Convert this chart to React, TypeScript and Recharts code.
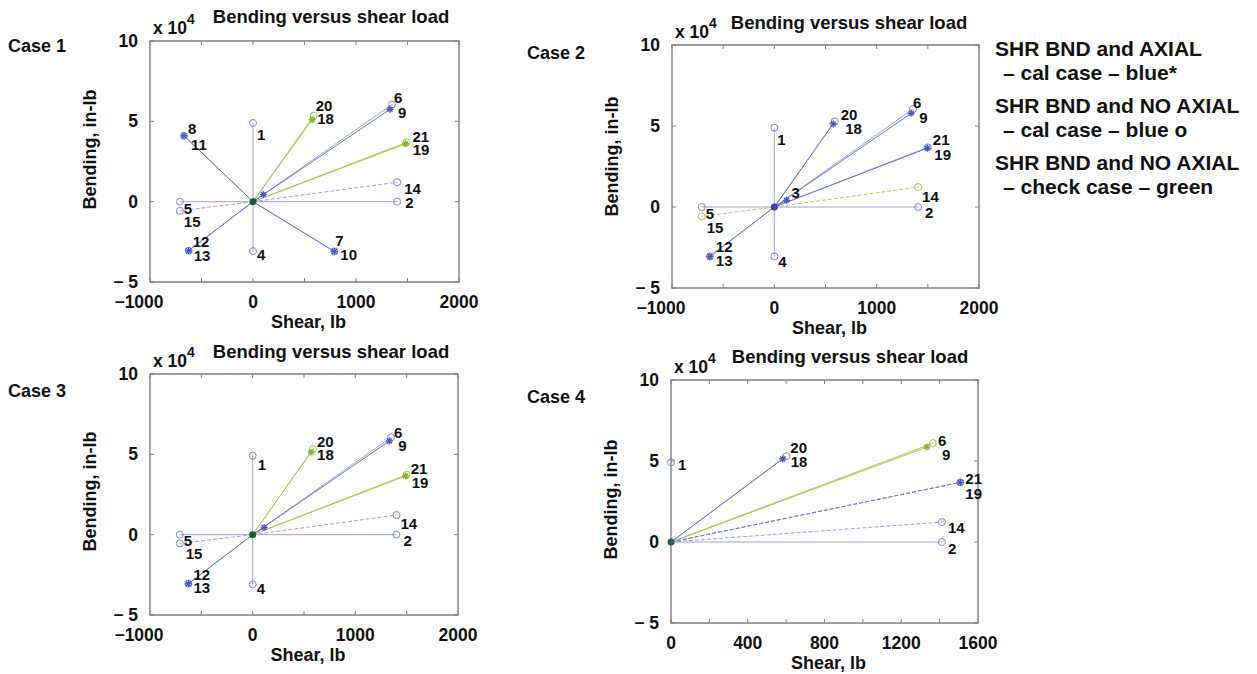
import React from 'react'
import { ScatterChart, Scatter, XAxis, YAxis, ReferenceLine, ReferenceArea } from 'recharts'

type Pt = { id: string; x: number; y: number }
type Kind = 'blueO' | 'blueStar' | 'greenO' | 'greenStar'

// ---- Case 1 ----
const C1_BLUE_O: Pt[] = [
  { id: '1', x: 0, y: 49000 }, { id: '2', x: 1400, y: 0 }, { id: '4', x: 0, y: -30800 },
  { id: '5', x: -710, y: 0 }, { id: '15', x: -710, y: -5700 }, { id: '14', x: 1400, y: 12100 },
  { id: '6', x: 1350, y: 60500 }, { id: '7', x: 790, y: -31000 }, { id: '8', x: -670, y: 41000 },
  { id: '12', x: -625, y: -30500 },
]
const C1_BLUE_STAR: Pt[] = [
  { id: '9', x: 1330, y: 57500 }, { id: '10', x: 790, y: -31000 }, { id: '11', x: -670, y: 41000 },
  { id: '13', x: -625, y: -30500 }, { id: '', x: 100, y: 4400 },
]
const C1_GREEN_O: Pt[] = [{ id: '20', x: 590, y: 53500 }, { id: '21', x: 1490, y: 36900 }]
const C1_GREEN_STAR: Pt[] = [{ id: '18', x: 575, y: 51000 }, { id: '19', x: 1482, y: 36000 }]

// ---- Case 2 ----
const C2_BLUE_O: Pt[] = [
  { id: '1', x: 0, y: 49000 }, { id: '2', x: 1405, y: 0 }, { id: '4', x: 0, y: -30500 },
  { id: '5', x: -710, y: 0 }, { id: '6', x: 1355, y: 60500 }, { id: '20', x: 590, y: 52800 },
  { id: '21', x: 1500, y: 36800 }, { id: '12', x: -630, y: -30500 },
]
const C2_BLUE_STAR: Pt[] = [
  { id: '9', x: 1337, y: 57800 }, { id: '18', x: 575, y: 51300 }, { id: '19', x: 1495, y: 36300 },
  { id: '13', x: -630, y: -30500 }, { id: '3', x: 120, y: 4100 },
]
const C2_GREEN_O: Pt[] = [{ id: '14', x: 1405, y: 12300 }, { id: '15', x: -710, y: -5800 }]
const C2_GREEN_STAR: Pt[] = []

// ---- Case 3 ----
const C3_BLUE_O: Pt[] = [
  { id: '1', x: 0, y: 49200 }, { id: '2', x: 1400, y: 0 }, { id: '4', x: 0, y: -31000 },
  { id: '5', x: -710, y: 0 }, { id: '15', x: -710, y: -5500 }, { id: '14', x: 1400, y: 12200 },
  { id: '6', x: 1348, y: 60600 }, { id: '12', x: -626, y: -30500 },
]
const C3_BLUE_STAR: Pt[] = [
  { id: '9', x: 1331, y: 58300 }, { id: '13', x: -626, y: -30500 }, { id: '', x: 112, y: 4500 },
]
const C3_GREEN_O: Pt[] = [{ id: '20', x: 588, y: 53300 }, { id: '21', x: 1500, y: 37300 }]
const C3_GREEN_STAR: Pt[] = [{ id: '18', x: 569, y: 51300 }, { id: '19', x: 1490, y: 36500 }]

// ---- Case 4 ----
const C4_BLUE_O: Pt[] = [
  { id: '1', x: 0, y: 49200 }, { id: '2', x: 1412, y: 0 }, { id: '14', x: 1412, y: 12300 },
  { id: '20', x: 601, y: 53000 }, { id: '21', x: 1508, y: 36800 },
]
const C4_BLUE_STAR: Pt[] = [{ id: '18', x: 582, y: 51300 }, { id: '19', x: 1508, y: 36800 }]
const C4_GREEN_O: Pt[] = [{ id: '6', x: 1365, y: 61000 }]
const C4_GREEN_STAR: Pt[] = [{ id: '9', x: 1334, y: 58600 }]

const ORIGIN: Pt[] = [{ id: '', x: 0, y: 0 }]

const X_TICKS_WIDE = [-1000, -500, 0, 500, 1000, 1500, 2000]
const X_TICKS_CASE4 = [0, 200, 400, 600, 800, 1000, 1200, 1400, 1600]
const Y_TICKS = [-50000, 0, 50000, 100000]

const TITLE = 'Bending versus shear load'
const X_LABEL = 'Shear, lb'
const Y_LABEL = 'Bending, in-lb'
const LEGEND_LINES = [
  'SHR BND and AXIAL', '– cal case – blue*',
  'SHR BND and NO AXIAL', '– cal case – blue o',
  'SHR BND and NO AXIAL', '– check case – green',
]

// label placement next to each point: [dx of text start, dy of text middle]
const OFF_1: Record<string, [number, number]> = {
  '1': [4, 12], '2': [8, 1], '14': [7, 6], '4': [4, 3], '5': [4, 7], '15': [4, 11],
  '6': [2, -7], '9': [8, 3], '20': [2, -10], '18': [5, -1], '21': [6, -6], '19': [7, 6],
  '8': [4, -7], '11': [7, 9], '12': [4, -9], '13': [5, 5], '7': [1, -11], '10': [6, 3],
}
const OFF_2: Record<string, [number, number]> = {
  '1': [3, 12], '20': [6, -7], '18': [12, 5], '6': [0, -6], '9': [8, 4], '21': [5, -8],
  '19': [7, 6], '14': [4, 9], '2': [7, 5], '5': [4, 6], '15': [5, 11], '12': [6, -10],
  '13': [6, 4], '4': [4, 5], '3': [5, -8],
}
const OFF_3: Record<string, [number, number]> = {
  '1': [5, 9], '6': [3, -5], '9': [9, 5], '20': [4, -8], '18': [6, 2], '21': [4, -6],
  '19': [6, 6], '14': [4, 8], '2': [7, 6], '5': [4, 6], '15': [6, 10], '12': [5, -9],
  '13': [5, 4], '4': [4, 4],
}
const OFF_4: Record<string, [number, number]> = {
  '1': [7, 2], '20': [4, -9], '18': [8, 3], '6': [5, -3], '9': [15, 7],
  '21': [5, -4], '19': [5, 11], '14': [6, 5], '2': [6, 6],
}

const FONT = '"Liberation Sans", Arial, sans-serif'
const FRAME = '#7f7f7f'
const MARK: Record<Kind, string> = {
  blueO: '#7c84da', blueStar: '#4b56c0', greenO: '#9acb3c', greenStar: '#82b62c',
}
const LINE: Record<Kind, string> = {
  blueO: '#9ba1e4', blueStar: '#6b73cf', greenO: '#a6d257', greenStar: '#9ccc44',
}

const YW = 80
const MT = 16
const MR = 36
const XH = 40

function fmtX(v: number) {
  return v < 0 ? `\u2212${Math.abs(v)}` : `${v}`
}
function fmtY(v: number) {
  const n = v / 10000
  return n < 0 ? `\u2212 ${Math.abs(n)}` : `${n}`
}

function makeShape(kind: Kind, offsets: Record<string, [number, number]>) {
  return (props: any) => {
    const { cx, cy, payload } = props
    const c = MARK[kind]
    const star = kind === 'blueStar' || kind === 'greenStar'
    const off = offsets[payload.id]
    return (
      <g>
        {star ? (
          <g stroke={c} strokeWidth={1.4}>
            <line x1={cx - 3.5} x2={cx + 3.5} y1={cy} y2={cy} />
            <line x1={cx} x2={cx} y1={cy - 3.5} y2={cy + 3.5} />
            <line x1={cx - 2.5} x2={cx + 2.5} y1={cy - 2.5} y2={cy + 2.5} />
            <line x1={cx - 2.5} x2={cx + 2.5} y1={cy + 2.5} y2={cy - 2.5} />
          </g>
        ) : (
          <circle cx={cx} cy={cy} r={3.5} fill="none" stroke={c} strokeWidth={1} />
        )}
        {payload.id && off && (
          <text x={cx + off[0]} y={cy + off[1]} dominantBaseline="central" fontSize={15}
            fontWeight="bold" fill="#111" fontFamily={FONT}>{payload.id}</text>
        )}
      </g>
    )
  }
}

interface PanelProps {
  left: number
  top: number
  plotW: number
  plotH: number
  xDomain: [number, number]
  xTicks: number[]
  xLabelStep: number
  series: { kind: Kind; data: Pt[] }[]
  offsets: Record<string, [number, number]>
  dashed: string[]
  originColor: string
}

function Panel({ left, top, plotW, plotH, xDomain, xTicks, xLabelStep, series, offsets, dashed, originColor }: PanelProps) {
  const xTick = (p: any) => {
    const { x, y, payload } = p
    const v = payload.value as number
    return (
      <g>
        <line x1={x} x2={x} y1={y} y2={y - 4} stroke={FRAME} />
        <line x1={x} x2={x} y1={y - plotH} y2={y - plotH + 4} stroke={FRAME} />
        {v % xLabelStep === 0 && (
          <text x={v < 0 ? x - 11 : x} y={y + 20} textAnchor="middle" dominantBaseline="central"
            fontSize={17.5} fontWeight="bold" fill="#111" fontFamily={FONT}>{fmtX(v)}</text>
        )}
      </g>
    )
  }
  const yTick = (p: any) => {
    const { x, y, payload } = p
    const v = payload.value as number
    return (
      <g>
        <line x1={x} x2={x + 4} y1={y} y2={y} stroke={FRAME} />
        <line x1={x + plotW} x2={x + plotW - 4} y1={y} y2={y} stroke={FRAME} />
        <text x={x - 12} y={y} textAnchor="end" dominantBaseline="central"
          fontSize={17.5} fontWeight="bold" fill="#111" fontFamily={FONT}>{fmtY(v)}</text>
      </g>
    )
  }

  return (
    <div style={{ position: 'absolute', left: left - YW, top: top - MT }}>
      <ScatterChart width={YW + plotW + MR} height={MT + plotH + XH}
        margin={{ top: MT, right: MR, left: 0, bottom: 0 }}>
        <XAxis type="number" dataKey="x" domain={xDomain} ticks={xTicks} interval={0}
          tick={xTick} tickLine={false} axisLine={false} tickSize={0} tickMargin={0}
          height={XH} />
        <YAxis type="number" dataKey="y" domain={[-50000, 100000]} ticks={Y_TICKS} interval={0}
          tick={yTick} tickLine={false} axisLine={false} tickSize={0} tickMargin={0}
          width={YW} />
        <ReferenceArea x1={xDomain[0]} x2={xDomain[1]} y1={-50000} y2={100000}
          fill="none" stroke={FRAME} strokeWidth={1.4} ifOverflow="visible" />
        {series.flatMap((s, si) =>
          s.data.map((p, pi) => (
            <ReferenceLine key={`l${si}-${pi}`} segment={[{ x: 0, y: 0 }, { x: p.x, y: p.y }]}
              stroke={LINE[s.kind]} strokeWidth={1}
              strokeDasharray={dashed.includes(p.id) ? '4 2' : undefined}
              ifOverflow="visible" />
          ))
        )}
        {series.map((s, si) => (
          <Scatter key={`s${si}`} data={s.data} shape={makeShape(s.kind, offsets)}
            isAnimationActive={false} />
        ))}
        <Scatter data={ORIGIN} isAnimationActive={false}
          shape={(p: any) => <circle cx={p.cx} cy={p.cy} r={3.5} fill={originColor} />} />
      </ScatterChart>
    </div>
  )
}

const txt = { fontFamily: FONT, fontWeight: 'bold' as const, fill: '#111' }

function Decor({ plotLeft, plotTop, plotW, plotH, caseNo, caseX, caseY, titleX, titleY, yLabelDy }: {
  plotLeft: number; plotTop: number; plotW: number; plotH: number; caseNo: number
  caseX: number; caseY: number; titleX: number; titleY: number; yLabelDy: number
}) {
  const yc = plotTop + plotH / 2 + yLabelDy
  return (
    <g>
      <text x={caseX} y={caseY} fontSize={18} {...txt}>{`Case ${caseNo}`}</text>
      <text x={titleX} y={titleY} fontSize={18.5} textAnchor="middle" {...txt}>{TITLE}</text>
      <text x={plotLeft + 3} y={plotTop - 7} fontSize={17.5} {...txt}>
        x 10<tspan dy={-10} fontSize={14}>4</tspan>
      </text>
      <text x={plotLeft - 60} y={yc} fontSize={18} textAnchor="middle" dominantBaseline="central"
        transform={`rotate(-90 ${plotLeft - 60} ${yc})`} {...txt}>{Y_LABEL}</text>
      <text x={plotLeft + plotW / 2 + 4} y={plotTop + plotH + 46} fontSize={18} textAnchor="middle"
        {...txt}>{X_LABEL}</text>
    </g>
  )
}

export default function App() {
  return (
    <div style={{ position: 'absolute', left: 0, top: 0, width: 1257, height: 674, background: '#fff' }}>
      <Panel left={150} top={41} plotW={309} plotH={241} xDomain={[-1000, 2000]} xTicks={X_TICKS_WIDE}
        xLabelStep={1000} offsets={OFF_1} dashed={['14', '15']} originColor="#1f5a2e"
        series={[
          { kind: 'blueO', data: C1_BLUE_O }, { kind: 'blueStar', data: C1_BLUE_STAR },
          { kind: 'greenO', data: C1_GREEN_O }, { kind: 'greenStar', data: C1_GREEN_STAR },
        ]} />
      <Panel left={672} top={45} plotW={307} plotH={243} xDomain={[-1000, 2000]} xTicks={X_TICKS_WIDE}
        xLabelStep={1000} offsets={OFF_2} dashed={['14', '15']} originColor="#34439f"
        series={[
          { kind: 'blueO', data: C2_BLUE_O }, { kind: 'blueStar', data: C2_BLUE_STAR },
          { kind: 'greenO', data: C2_GREEN_O }, { kind: 'greenStar', data: C2_GREEN_STAR },
        ]} />
      <Panel left={150} top={374} plotW={308} plotH={241} xDomain={[-1000, 2000]} xTicks={X_TICKS_WIDE}
        xLabelStep={1000} offsets={OFF_3} dashed={['14', '15']} originColor="#1f5a2e"
        series={[
          { kind: 'blueO', data: C3_BLUE_O }, { kind: 'blueStar', data: C3_BLUE_STAR },
          { kind: 'greenO', data: C3_GREEN_O }, { kind: 'greenStar', data: C3_GREEN_STAR },
        ]} />
      <Panel left={671} top={380} plotW={307} plotH={243} xDomain={[0, 1600]} xTicks={X_TICKS_CASE4}
        xLabelStep={400} offsets={OFF_4} dashed={['14', '21', '19']} originColor="#2a5a48"
        series={[
          { kind: 'blueO', data: C4_BLUE_O }, { kind: 'blueStar', data: C4_BLUE_STAR },
          { kind: 'greenO', data: C4_GREEN_O }, { kind: 'greenStar', data: C4_GREEN_STAR },
        ]} />
      <svg width={1257} height={674} style={{ position: 'absolute', left: 0, top: 0, pointerEvents: 'none' }}>
        <Decor plotLeft={150} plotTop={41} plotW={309} plotH={241} caseNo={1} caseX={8} caseY={52}
          titleX={331} titleY={23} yLabelDy={-12} />
        <Decor plotLeft={672} plotTop={45} plotW={307} plotH={243} caseNo={2} caseX={527} caseY={59}
          titleX={849} titleY={29} yLabelDy={-10} />
        <Decor plotLeft={150} plotTop={374} plotW={308} plotH={241} caseNo={3} caseX={8} caseY={397}
          titleX={331} titleY={358} yLabelDy={-3} />
        <Decor plotLeft={671} plotTop={380} plotW={307} plotH={243} caseNo={4} caseX={527} caseY={403}
          titleX={850} titleY={363} yLabelDy={-2} />
        {LEGEND_LINES.map((line, i) => (
          <text key={i} x={i % 2 === 0 ? 995 : 1003} y={[56, 80, 113, 137, 170, 194][i]}
            fontSize={21} {...txt}>{line}</text>
        ))}
      </svg>
    </div>
  )
}
